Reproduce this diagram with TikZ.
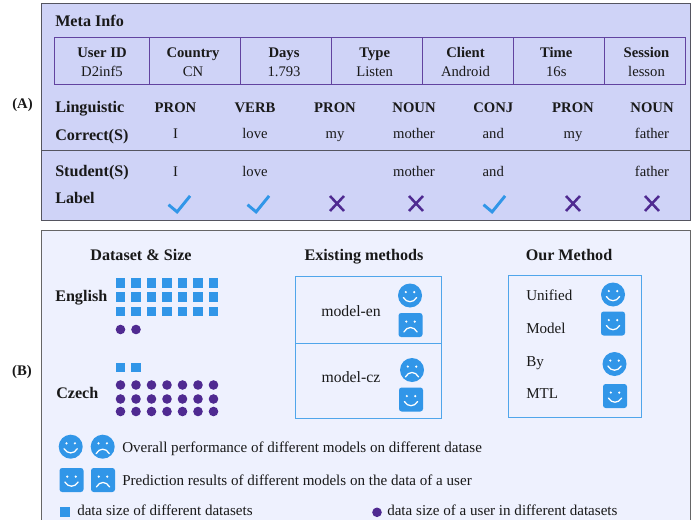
\documentclass[tikz,border=0pt]{standalone}
\usepackage{fontspec}
\setmainfont{Liberation Serif}
\definecolor{panela}{HTML}{CFD3F7}
\definecolor{panelb}{HTML}{EEF1FE}
\definecolor{bluef}{HTML}{3196E8}
\definecolor{purp}{HTML}{4F2A91}
\definecolor{frameg}{HTML}{555560}
\tikzset{
  x=0.75pt,y=-0.75pt,
  base/.style={inner sep=0pt,text height=7.5pt,text depth=2.5pt,text=black!90},
  txt/.style={base,font=\fontsize{11.3pt}{12pt}\selectfont},
  tval/.style={base,font=\fontsize{11pt}{12pt}\selectfont},
  tbld/.style={base,font=\fontsize{11pt}{12pt}\selectfont\bfseries},
  bld/.style={base,font=\fontsize{12.1pt}{13pt}\selectfont\bfseries},
  mdl/.style={base,font=\fontsize{11.8pt}{13pt}\selectfont},
  lft/.style={anchor=west},
  sqm/.style={fill=bluef,minimum size=7.4pt,inner sep=0pt,draw=none},
  dot/.style={fill=purp,circle,minimum size=7.2pt,inner sep=0pt,draw=none},
  fc/.style={fill=bluef,circle,minimum size=18pt,inner sep=0pt,draw=none},
  fs/.style={fill=bluef,rounded corners=2pt,minimum size=18pt,inner sep=0pt,draw=none},
  mouth/.style={draw=white,line width=0.95pt,line cap=round},
  smile/.pic={
    \fill[white] (-4.2,-3.4) circle (1.2) (4.2,-3.4) circle (1.2);
    \draw[mouth] (-6.6,2) .. controls (-3.5,7.6) and (3.5,7.6) .. (6.6,2);
  },
  frown/.pic={
    \fill[white] (-4.2,-3.4) circle (1.2) (4.2,-3.4) circle (1.2);
    \draw[mouth] (-6.6,7) .. controls (-3.5,1) and (3.5,1) .. (6.6,7);
  },
  tick/.pic={
    \draw[bluef,line width=2.2pt] (-11,1.2) -- (-2.4,8.4) -- (10.6,-7.6);
  },
  cross/.pic={
    \draw[purp,line width=1.9pt] (-7,-7.5) -- (7,7.5) (-7,7.5) -- (7,-7.5);
  },
}
\begin{document}
\begin{tikzpicture}
\useasboundingbox (0,0) rectangle (691,520);
\fill[white] (0,0) rectangle (691,520);
% panels
\draw[fill=panela,draw=frameg,line width=0.75pt] (41,4) rectangle (690,220);
\draw[frameg,line width=0.75pt] (41,150.5) -- (690,150.5);
\draw[fill=panelb,draw=gray!80!black,line width=0.6pt] (41,230.5) -- (690.6,230.5) -- (690.6,520) -- (41,520) -- cycle;
\node[bld,lft] (meta) at (55,22.7) {Meta Info};
% meta table
\draw[purp!85!panela,line width=0.6pt] (54,37.8) rectangle (685.5,84.3)
  (149.5,37.8) -- (149.5,84.3) (240.5,37.8) -- (240.5,84.3) (331.7,37.8) -- (331.7,84.3)
  (422.6,37.8) -- (422.6,84.3) (513.8,37.8) -- (513.8,84.3) (604.8,37.8) -- (604.8,84.3);
\foreach \nm/\x/\h/\v in {a/102/User ID/D2inf5,b/193/Country/CN,c/284/Days/1.793,d/374.7/Type/Listen,e/465.5/Client/Android,f/556.3/Time/16s,g/646.5/Session/lesson}{
  \node[tbld] (h\nm) at (\x,54.3) {\h};
  \node[tval] (v\nm) at (\x,72.7) {\v};
}
% rows
\node[bld,lft] (ling) at (55,109.4) {Linguistic};
\node[bld,lft] (corr) at (55,136.7) {Correct(S)};
\node[bld,lft] (stud) at (55,172.7) {Student(S)};
\node[bld,lft] (lab) at (55,200.4) {Label};
\foreach \nm/\x/\p/\w in {a/175.5/PRON/I,b/255/VERB/love,c/335/PRON/my,d/414/NOUN/mother,e/493.3/CONJ/and,f/573/PRON/my,g/652/NOUN/father}{
  \node[tbld] (p\nm) at (\x,109.4) {\p};
  \node[tval] (w\nm) at (\x,135) {\w};
}
\foreach \nm/\x/\w in {a/175.5/I,b/255/love,d/414/mother,e/493.3/and,g/652/father}{
  \node[tval] (s\nm) at (\x,172.7) {\w};
}
\pic at (179.5,203.5) {tick};
\pic at (258.5,203.5) {tick};
\pic at (337,203.5) {cross};
\pic at (416,203.5) {cross};
\pic at (494.5,203.5) {tick};
\pic at (573,203.5) {cross};
\pic at (652,203.5) {cross};
\node[tbld] (A) at (22.5,105) {(A)};
\node[tbld] (B) at (22,372) {(B)};
% part B headings
\node[bld] (h1) at (141,257.4) {Dataset \& Size};
\node[bld] (h2) at (364,256.7) {Existing methods};
\node[bld] (h3) at (569,256.7) {Our Method};
\node[bld,lft] (en) at (55,298) {English};
\node[bld,lft] (cz) at (56,395.4) {Czech};
% squares / dots
\foreach \y in {283,297,311.5}
  \foreach \x in {120.5,136,151.5,167,182.5,198,213.5}
    \node[sqm] at (\x,\y) {};
\foreach \x in {120.5,136} \node[dot] at (\x,329.5) {};
\foreach \x in {120.5,136} \node[sqm] at (\x,367.5) {};
\foreach \y in {385,399,411.5}
  \foreach \x in {120.5,136,151.5,167,182.5,198,213.5}
    \node[dot] at (\x,\y) {};
% existing methods
\draw[bluef!85!white,line width=0.7pt] (295.5,276) rectangle (441.5,418) (295.5,343.5) -- (441.5,343.5);
\node[mdl] (men) at (351,312.7) {model-en};
\node[mdl] (mcz) at (351,378.7) {model-cz};
\node[fc] at (410,295.5) {}; \pic at (410,295.5) {smile};
\node[fs] at (410.5,325) {}; \pic at (410.5,325) {frown};
\node[fc] at (412,370) {}; \pic at (412,370) {frown};
\node[fs] at (411,399.5) {}; \pic at (411,399.5) {smile};
% our method
\draw[bluef!85!white,line width=0.7pt] (508,275) rectangle (641.5,417);
\node[txt,lft] (u1) at (526,297.4) {Unified};
\node[txt,lft] (u2) at (526,330.4) {Model};
\node[txt,lft] (u3) at (526,362.7) {By};
\node[txt,lft] (u4) at (526,395.4) {MTL};
\node[fc] at (613,294.5) {}; \pic at (613,294.5) {smile};
\node[fs] at (613,323.5) {}; \pic at (613,323.5) {smile};
\node[fc] at (614.5,364) {}; \pic at (614.5,364) {smile};
\node[fs] at (615,396) {}; \pic at (615,396) {smile};
% legend
\node[fc] at (70.7,446.7) {}; \pic at (70.7,446.7) {smile};
\node[fc] at (102.7,446.7) {}; \pic at (102.7,446.7) {frown};
\node[fs] at (71.5,480) {}; \pic at (71.5,480) {smile};
\node[fs] at (103,480) {}; \pic at (103,480) {frown};
\node[txt,lft] (l1) at (122,449.4) {Overall performance of different models on different datase};
\node[txt,lft] (l2) at (122,481.7) {Prediction results of different models on the data of a user};
\node[sqm] at (64.7,511.7) {};
\node[txt,lft] (l3) at (77,511.7) {data size of different datasets};
\node[dot] at (377,512.3) {};
\node[txt,lft] (l4) at (387,511.7) {data size of a user in different datasets};
\end{tikzpicture}
\end{document}
